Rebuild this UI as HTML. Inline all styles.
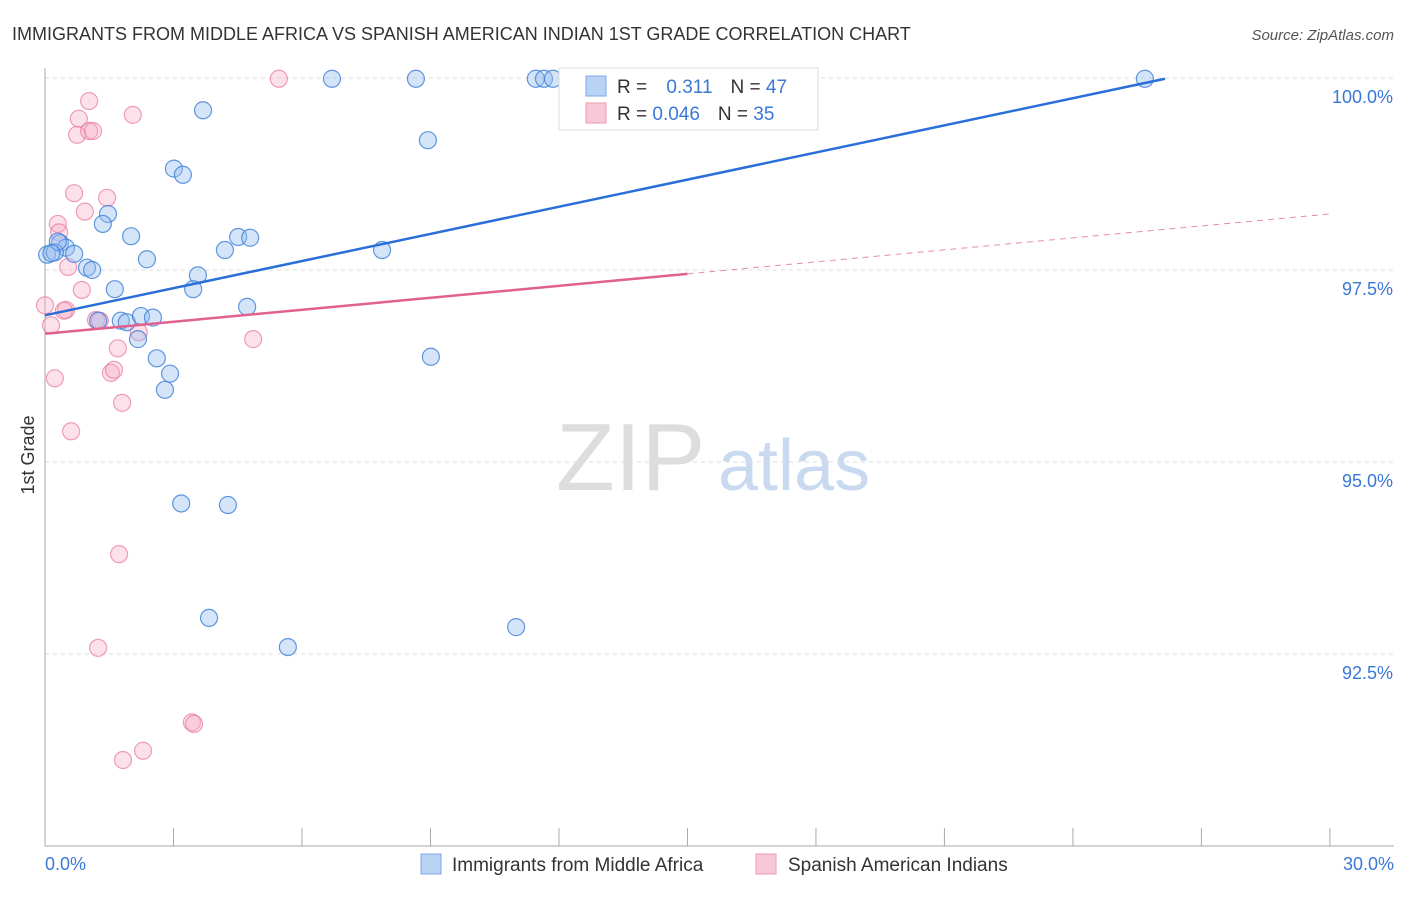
<!DOCTYPE html>
<html><head><meta charset="utf-8"><style>
body{margin:0;background:#fff;font-family:"Liberation Sans",sans-serif}
svg text{font-family:"Liberation Sans",sans-serif}
</style></head><body>
<svg id="chart" width="1406" height="892">
<text x="12" y="40" font-size="18" fill="#333">IMMIGRANTS FROM MIDDLE AFRICA VS SPANISH AMERICAN INDIAN 1ST GRADE CORRELATION CHART</text>
<text x="1394" y="40" font-size="15" fill="#555" font-style="italic" text-anchor="end">Source: ZipAtlas.com</text>
<text x="556" y="490" font-size="96" fill="#ddd" font-family="Liberation Serif">ZIP</text>
<text x="718" y="490" font-size="72" fill="#c9daf0">atlas</text>
<text transform="translate(34,455) rotate(-90)" font-size="18" fill="#333" text-anchor="middle">1st Grade</text>
<g id="grid"></g><g id="axes"></g><g id="pts"></g><g id="lines"></g>
<g>
<rect x="559" y="68" width="259" height="62" fill="#fff" stroke="#ddd"/>
<rect x="586" y="76" width="20" height="20" fill="#b9d3f5" stroke="#7aa7e6"/>
<text x="617" y="93" font-size="19" fill="#333">R = <tspan fill="#3a78d8" dx="14">0.311</tspan><tspan dx="18" fill="#333">N = </tspan><tspan fill="#3a78d8">47</tspan></text>
<rect x="586" y="103" width="20" height="20" fill="#f8c8d6" stroke="#ee9ab4"/>
<text x="617" y="120" font-size="19" fill="#333">R = <tspan fill="#3a78d8">0.046</tspan><tspan dx="18" fill="#333">N = </tspan><tspan fill="#3a78d8">35</tspan></text>
</g>
<g>
<rect x="421" y="854" width="20" height="20" fill="#b9d3f5" stroke="#7aa7e6"/>
<text x="452" y="871" font-size="19" fill="#333">Immigrants from Middle Africa</text>
<rect x="756" y="854" width="20" height="20" fill="#f8c8d6" stroke="#ee9ab4"/>
<text x="788" y="871" font-size="19" fill="#333">Spanish American Indians</text>
</g>
</svg>
<script>
const yTicks=[100,97.5,95,92.5];
const yTickLabels=["100.0%","97.5%","95.0%","92.5%"];
const xEndLabels=["0.0%","30.0%"];
const blueX=[3.69,6.70,8.66,11.46,11.65,11.86,14.55,25.68,8.94,3.01,3.22,1.47,1.35,2.01,4.51,4.79,4.20,7.87,0.05,0.35,0.49,0.68,0.23,2.38,0.98,1.10,3.57,1.63,3.46,4.72,1.24,1.77,1.91,2.24,2.52,2.17,2.61,9.01,2.92,2.80,3.18,4.27,3.83,5.67,11.0,0.30,0.15];
const blueY=[99.58,99.99,99.99,99.99,99.99,99.99,99.99,99.99,99.19,98.82,98.74,98.23,98.10,97.94,97.93,97.92,97.76,97.76,97.70,97.85,97.79,97.71,97.73,97.64,97.53,97.50,97.43,97.25,97.25,97.02,96.84,96.84,96.82,96.90,96.88,96.60,96.35,96.37,96.15,95.94,94.46,94.44,92.97,92.59,92.85,97.87,97.72];
const pinkX=[5.46,12.47,1.03,0.79,2.05,0.75,1.03,1.12,0.68,1.45,0.93,0.30,0.33,0.54,0.86,0.0,0.14,0.49,1.19,1.28,1.70,2.19,4.86,1.54,1.61,0.23,1.80,0.61,1.73,1.24,3.43,3.48,2.29,1.82,0.44];
const pinkY=[99.99,99.99,99.70,99.47,99.52,99.26,99.31,99.31,98.50,98.44,98.26,98.10,97.99,97.54,97.24,97.04,96.78,96.98,96.85,96.84,96.48,96.69,96.60,96.16,96.20,96.09,95.77,95.40,93.80,92.58,91.61,91.59,91.24,91.12,96.97];
const blueTrend=[[0,96.91],[26.15,99.99]];
const pinkTrend=[[0,96.67],[15,97.45],[30,98.23]];
const X=v=>45+v*42.83, Y=v=>78+(100-v)*76.8;
const NS="http://www.w3.org/2000/svg";
function mk(t,a,p){const e=document.createElementNS(NS,t);for(const k in a)e.setAttribute(k,a[k]);p.appendChild(e);return e;}
const grid=document.getElementById('grid'),axes=document.getElementById('axes'),pts=document.getElementById('pts'),lines=document.getElementById('lines');
yTicks.forEach((t,i)=>{
 const l=mk('line',{x1:45,x2:1394,y1:Y(t),y2:Y(t),stroke:'#ddd','stroke-dasharray':'4,4'},grid);
 
 
 const tx=mk('text',{x:1393,y:Y(t)+25,'font-size':18,fill:'#3a78d8','text-anchor':'end'},axes);
 tx.textContent=yTickLabels[i];
 
 
});
const ax=mk('line',{x1:45,x2:45,y1:68,y2:846,stroke:'#aaa'},axes);


const bx=mk('line',{x1:45,x2:1394,y1:846,y2:846,stroke:'#aaa'},axes);


for(let i=0;i<=10;i++){const t=mk('line',{x1:X(i*3),x2:X(i*3),y1:828,y2:846,stroke:'#aaa'},axes);
 
 }
[[0,'start',45],[30,'end',1394]].forEach((d,i)=>{const t=mk('text',{x:d[2],y:870,'font-size':18,fill:'#3a78d8','text-anchor':d[1]},axes);t.textContent=xEndLabels[i];
 
 });
function dots(xs,ys,fill,stroke,name){xs.forEach((x,i)=>{const c=mk('circle',{cx:X(x),cy:Y(ys[i]),r:8.5,fill:fill,stroke:stroke,'stroke-width':1.2},pts);
 
 });}
dots(pinkX,pinkY,'rgba(246,170,195,0.35)','rgba(232,120,155,0.7)','pink-point');
dots(blueX,blueY,'rgba(150,190,240,0.4)','rgba(60,125,215,0.8)','blue-point');
const bl=mk('line',{x1:X(blueTrend[0][0]),y1:Y(blueTrend[0][1]),x2:X(blueTrend[1][0]),y2:Y(blueTrend[1][1]),stroke:'#2a6fd8','stroke-width':2.5},lines);


const pl=mk('line',{x1:X(pinkTrend[0][0]),y1:Y(pinkTrend[0][1]),x2:X(pinkTrend[1][0]),y2:Y(pinkTrend[1][1]),stroke:'#e0608e','stroke-width':2.5},lines);


const pd=mk('line',{x1:X(pinkTrend[1][0]),y1:Y(pinkTrend[1][1]),x2:X(pinkTrend[2][0]),y2:Y(pinkTrend[2][1]),stroke:'#e88aab','stroke-width':1,'stroke-dasharray':'6,5'},lines);


</script>
</body></html>
